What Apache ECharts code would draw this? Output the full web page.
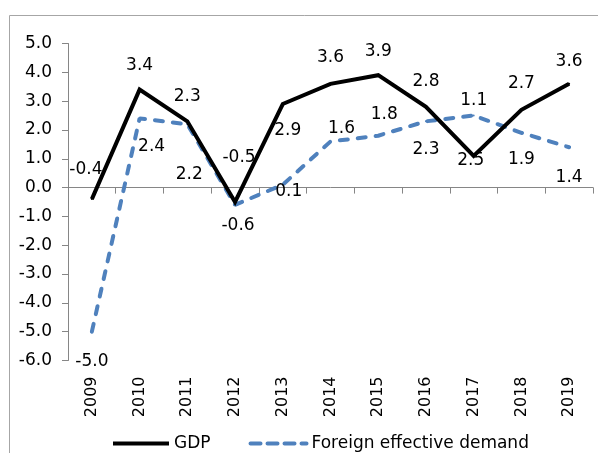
<!DOCTYPE html>
<html>
<head>
<meta charset="utf-8">
<script src="https://cdn.jsdelivr.net/npm/echarts@6/dist/echarts.min.js"></script>
<style>
  html, body { margin: 0; padding: 0; background: #fff; }
  #chart { width: 598px; height: 453px; }
</style>
</head>
<body>
<div id="chart"></div>
<script>
const years = ['2009', '2010', '2011', '2012', '2013', '2014', '2015', '2016', '2017', '2018', '2019'];
const gdp = [-0.4, 3.4, 2.3, -0.5, 2.9, 3.6, 3.9, 2.8, 1.1, 2.7, 3.6];
const foreignDemand = [-5.0, 2.4, 2.2, -0.6, 0.1, 1.6, 1.8, 2.3, 2.5, 1.9, 1.4];

// label offsets copied from the hand-placed labels of the original
const gdpLabelOffset = [[-6, -30], [0, -24], [0, -25], [4, -44], [5, 27], [0, -26],
  [0, -24], [0, -25], [0, -55], [0, -26], [0, -22]];
const fedLabelOffset = [[0, 30], [12, 28], [2, 50], [3, 21], [6, 7], [11, -13],
  [6, -21], [0, 28], [-3, 45], [0, 27], [0, 30]];

const font = 'DejaVu Sans';
const blue = '#4f81bd';

function withLabels(values, offsets) {
  return values.map((v, i) => ({
    value: v,
    label: { offset: offsets[i] }
  }));
}

const chart = echarts.init(document.getElementById('chart'));

const option = {
  animation: false,
  textStyle: { fontFamily: font },
  graphic: [
    {
      type: 'rect',
      shape: { x: 9.5, y: 15.5, width: 620, height: 470 },
      style: { fill: 'none', stroke: '#a6a6a6', lineWidth: 1 },
      silent: true
    }
  ],
  grid: {
    left: 68,
    right: 5,
    top: 43.5,
    bottom: 92.5,
    containLabel: false
  },
  legend: {
    left: 106,
    top: 430,
    itemWidth: 56,
    itemHeight: 14,
    itemGap: 38,
    textStyle: { fontSize: 17, color: '#000', fontFamily: font },
    data: [
      {
        name: 'GDP',
        itemStyle: { opacity: 0 },
        lineStyle: { color: '#000', width: 4, type: 'solid' }
      },
      {
        name: 'Foreign effective demand',
        itemStyle: { opacity: 0 },
        lineStyle: { color: blue, width: 4, type: [10, 7], cap: 'round' }
      }
    ]
  },
  xAxis: [
    {
      type: 'category',
      data: years,
      axisLine: { onZero: true, lineStyle: { color: '#868686', width: 1 } },
      axisTick: { show: true, length: 6, lineStyle: { color: '#868686' } },
      axisLabel: { show: false },
      splitLine: { show: false }
    },
    {
      type: 'category',
      data: years,
      position: 'bottom',
      axisLine: { show: false, onZero: false },
      axisTick: { show: false },
      axisLabel: {
        rotate: 90,
        margin: 16,
        fontSize: 16,
        color: '#000',
        fontFamily: font
      },
      splitLine: { show: false }
    }
  ],
  yAxis: {
    type: 'value',
    min: -6,
    max: 5,
    interval: 1,
    axisLine: { show: true, lineStyle: { color: '#868686', width: 1 } },
    axisTick: { show: true, length: 6, lineStyle: { color: '#868686' } },
    axisLabel: {
      margin: 16,
      fontSize: 17,
      color: '#000',
      fontFamily: font,
      formatter: v => v.toFixed(1)
    },
    splitLine: { show: false }
  },
  series: [
    {
      name: 'GDP',
      type: 'line',
      data: withLabels(gdp, gdpLabelOffset),
      symbol: 'circle',
      symbolSize: 2,
      itemStyle: { color: '#000' },
      lineStyle: { color: '#000', width: 4, join: 'miter' },
      label: {
        show: true,
        position: 'inside',
        fontSize: 17,
        color: '#000',
        fontFamily: font,
        formatter: p => p.value.toFixed(1)
      },
      z: 3
    },
    {
      name: 'Foreign effective demand',
      type: 'line',
      data: withLabels(foreignDemand, fedLabelOffset),
      symbol: 'circle',
      symbolSize: 2,
      itemStyle: { color: blue },
      lineStyle: { color: blue, width: 4, type: [8, 10], cap: 'round' },
      label: {
        show: true,
        position: 'inside',
        fontSize: 17,
        color: '#000',
        fontFamily: font,
        formatter: p => p.value.toFixed(1)
      },
      z: 2
    }
  ]
};

chart.setOption(option);
</script>
</body>
</html>
